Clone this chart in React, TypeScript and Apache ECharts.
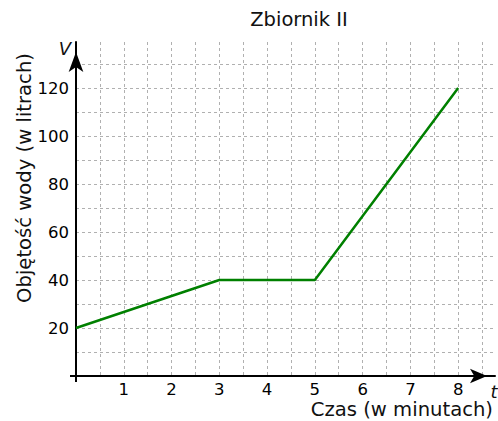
import React, { useEffect, useRef } from "react";
import * as echarts from "echarts";

const title = "Zbiornik II";
const xName = "Czas (w minutach)";
const yName = "Objętość wody (w litrach)";
const timeValues = [0, 3, 5, 8];
const volumeValues = [20, 40, 40, 120];
const xTickLabels = ["1", "2", "3", "4", "5", "6", "7", "8"];
const yTickLabels = ["20", "40", "60", "80", "100", "120"];

const FONT = "DejaVu Sans";

export default function App() {
  const ref = useRef<HTMLDivElement>(null);
  useEffect(() => {
    if (!ref.current) return;
    const chart = echarts.init(ref.current, undefined, { renderer: "svg" });
    const left = 76;
    const top = 42;
    const bottom = 45;
    const right = 1;
    const W = 498;
    const H = 421;
    const originX = left;
    const originY = H - bottom;
    chart.setOption({
      animation: false,
      backgroundColor: "#ffffff",
      textStyle: { fontFamily: FONT },
      grid: { left, right, top, bottom, containLabel: false },
      xAxis: {
        type: "value",
        min: 0,
        max: (W - left - right) / 48,
        interval: 0.5,
        axisLine: {
          show: true,
          lineStyle: { color: "#000", width: 2 },
          symbol: ["none", "arrow"],
          symbolSize: [11, 17],
          symbolOffset: [0, -8],
        },
        axisTick: { show: false },
        axisLabel: {
          color: "#000",
          fontSize: 16.5,
          fontFamily: FONT,
          margin: 5,
          formatter: (v: number) => {
            const s = String(v);
            return xTickLabels.includes(s) ? s : "";
          },
        },
        splitLine: {
          show: true,
          showMinLine: false,
          showMaxLine: false,
          lineStyle: { color: "#b0b0b0", type: [3, 3], width: 1 },
        },
      },
      yAxis: {
        type: "value",
        min: 0,
        max: (H - bottom - top) / 2.4,
        interval: 10,
        axisLine: {
          show: true,
          lineStyle: { color: "#000", width: 2 },
          symbol: ["none", "arrow"],
          symbolSize: [11, 20],
          symbolOffset: [0, -10],
        },
        axisTick: { show: false },
        axisLabel: {
          color: "#000",
          fontSize: 16.5,
          fontFamily: FONT,
          margin: 7,
          formatter: (v: number) => {
            const s = String(v);
            return yTickLabels.includes(s) ? s : "";
          },
        },
        splitLine: {
          show: true,
          showMinLine: false,
          showMaxLine: false,
          lineStyle: { color: "#b0b0b0", type: [3, 3], width: 1 },
        },
      },
      series: [
        {
          type: "line",
          data: timeValues.map((t, i) => [t, volumeValues[i]]),
          showSymbol: false,
          symbol: "none",
          lineStyle: { color: "#008000", width: 2.5 },
          z: 5,
        },
      ],
      graphic: [
        {
          type: "line",
          shape: { x1: originX - 6, y1: originY, x2: originX, y2: originY },
          style: { stroke: "#000", lineWidth: 2 },
        },
        {
          type: "line",
          shape: { x1: originX, y1: originY, x2: originX, y2: originY + 6 },
          style: { stroke: "#000", lineWidth: 2 },
        },
        {
          type: "text",
          x: 299,
          y: 19,
          style: {
            text: title,
            font: `19.5px "${FONT}"`,
            fill: "#111",
            textAlign: "center",
            textVerticalAlign: "middle",
          },
        },
        {
          type: "text",
          x: 65,
          y: 48,
          style: {
            text: "V",
            font: `italic 18px "${FONT}"`,
            fill: "#111",
            textAlign: "center",
            textVerticalAlign: "middle",
          },
        },
        {
          type: "text",
          x: 494,
          y: 391,
          style: {
            text: "t",
            font: `italic 18px "${FONT}"`,
            fill: "#111",
            textAlign: "center",
            textVerticalAlign: "middle",
          },
        },
        {
          type: "text",
          x: 493,
          y: 409,
          style: {
            text: xName,
            font: `19.6px "${FONT}"`,
            lineHeight: 20,
            fill: "#111",
            textAlign: "right",
            textVerticalAlign: "middle",
          },
        },
        {
          type: "text",
          x: 24,
          y: 178,
          rotation: Math.PI / 2,
          style: {
            text: yName,
            font: `19.6px "${FONT}"`,
            fill: "#111",
            textAlign: "center",
            textVerticalAlign: "middle",
          },
        },
      ],
    });
    return () => chart.dispose();
  }, []);
  return <div ref={ref} style={{ width: 498, height: 421, position: "absolute", left: 0, top: 0 }} />;
}
